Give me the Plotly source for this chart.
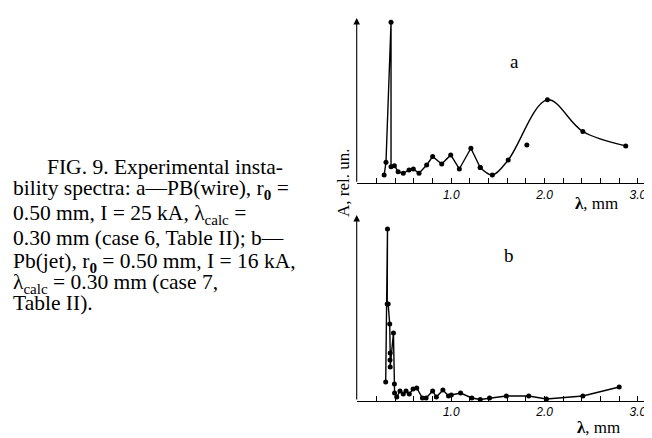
import plotly.graph_objects as go

# ---------------- data ----------------
# Panel a: PB(wire)
a_lam_lin = [0.28, 0.30, 0.354, 0.354, 0.39, 0.43, 0.485, 0.547, 0.593, 0.654, 0.736, 0.80, 0.897, 0.994, 1.086, 1.21, 1.31]
a_amp_lin = [8.3, 21, 160.7, 16.6, 17.6, 11.6, 10, 13.3, 14.3, 10, 18.3, 26.7, 19.3, 28.3, 14.3, 35, 15.7]
a_lam_smooth = [1.31, 1.44, 1.61, 2.03, 2.41, 2.87]
a_amp_smooth = [15.7, 8.3, 23.3, 83.3, 51.7, 37.3]
a_lam_extra = [1.81]
a_amp_extra = [38.3]

# Panel b: Pb(jet)
b_lam = [0.297, 0.316, 0.313, 0.323, 0.34, 0.345, 0.343, 0.345, 0.38, 0.39, 0.392, 0.415, 0.45, 0.485,
         0.515, 0.55, 0.59, 0.63, 0.69, 0.73, 0.80, 0.84, 0.91, 0.97, 1.0, 1.10, 1.22, 1.31, 1.41,
         1.59, 1.83, 2.02, 2.41, 2.80]
b_amp = [19, 172, 97, 97, 77, 48, 41, 34, 68, 17, 8, 4, 10, 7,
         10, 7, 12, 13, 3, 3, 10, 4, 11, 5, 6, 8, 3, 1.5, 3,
         5, 5, 2, 5, 14]

tick_vals = [0.2, 0.4, 0.6, 0.8, 1.0, 1.2, 1.4, 1.6, 1.8, 2.0, 2.2, 2.4, 2.6, 2.8, 3.0]
tick_text = ["", "", "", "", "<i>1.0</i>", "", "", "", "", "<i>2.0</i>", "", "", "", "", "<i>3.0</i>"]

caption_lines = [
    "FIG. 9. Experimental insta-",
    "bility spectra: a\u2014PB(wire), r<sub><b>0</b></sub> =",
    "0.50 mm, I = 25 kA, \u03bb<sub>calc</sub> =",
    "0.30 mm (case 6, Table II); b\u2014",
    "Pb(jet), r<sub><b>0</b></sub> = 0.50 mm, I = 16 kA,",
    "\u03bb<sub>calc</sub> = 0.30 mm (case 7,",
    "Table II).",
]

# ---------------- layout helpers (page has an 8px body margin) ----------------
OFF = 8
W, H = 644, 430


def px(x):
    return (x - OFF) / W


def py(y):
    return (H - (y - OFF)) / H


fig = go.Figure()
line_style = dict(color="black", width=1.4)
marker_style = dict(color="black", size=5)

fig.add_trace(go.Scatter(x=a_lam_lin, y=a_amp_lin, mode="lines+markers", line=line_style,
                         marker=marker_style, xaxis="x", yaxis="y"))
fig.add_trace(go.Scatter(x=a_lam_smooth, y=a_amp_smooth, mode="lines+markers",
                         line=dict(color="black", width=1.4, shape="spline", smoothing=1.0),
                         marker=marker_style, xaxis="x", yaxis="y"))
fig.add_trace(go.Scatter(x=a_lam_extra, y=a_amp_extra, mode="markers",
                         marker=marker_style, xaxis="x", yaxis="y"))
fig.add_trace(go.Scatter(x=b_lam, y=b_amp, mode="lines+markers", line=line_style,
                         marker=marker_style, xaxis="x2", yaxis="y2"))

x_dom = [px(356.7), px(650)]
ya_dom = [py(183.3), py(18)]
yb_dom = [py(401), py(215)]

xcommon = dict(range=[-0.014, 3.13], showgrid=False, zeroline=False, showline=True,
               linecolor="black", linewidth=1, ticks="inside", ticklen=5, tickwidth=1,
               tickcolor="black", tickvals=tick_vals, ticktext=tick_text,
               ticklabeloverflow="allow",
               tickfont=dict(family="Liberation Sans", size=12, color="black"))
ycommon = dict(showgrid=False, zeroline=False, showline=False, showticklabels=False, ticks="")

fig.update_layout(
    width=W, height=H, margin=dict(l=0, r=0, t=0, b=0),
    paper_bgcolor="white", plot_bgcolor="white", showlegend=False,
    xaxis=dict(domain=x_dom, anchor="y", **xcommon),
    yaxis=dict(domain=ya_dom, range=[0, 165], anchor="x", **ycommon),
    xaxis2=dict(domain=x_dom, anchor="y2", **xcommon),
    yaxis2=dict(domain=yb_dom, range=[0, 186], anchor="x2", **ycommon),
)

# y-axis arrows
for yref, length in (("y", 165.3), ("y2", 186)):
    fig.add_annotation(xref=yref.replace("y", "x") + " domain", yref=yref + " domain", x=0, y=1,
                       ax=0, ay=length, axref="pixel", ayref="pixel", text="", showarrow=True,
                       arrowhead=2, arrowsize=1.2, arrowwidth=1.1, arrowcolor="black")

serif = "Liberation Serif"


def label(x, y, text, size, **kw):
    fig.add_annotation(xref="paper", yref="paper", x=px(x), y=py(y), text=text, showarrow=False,
                       xanchor=kw.pop("xanchor", "center"), yanchor="middle",
                       font=dict(family=serif, size=size, color="black"), **kw)


# panel letters
label(514, 61, "a", 19)
label(509, 255, "b", 19)
# axis titles
label(596, 203, "<b>\u03bb</b>, mm", 17)
label(598, 427, "<b>\u03bb</b>, mm", 17)
label(344, 183, "A, rel. un.", 17, textangle=-90)

# caption
cap_y = [167, 190, 214, 238, 262, 283, 303]
for i, (txt, yc) in enumerate(zip(caption_lines, cap_y)):
    label(45 if i == 0 else 11, yc, txt, 21.5, xanchor="left", align="left")

fig.write_html("out.html")
